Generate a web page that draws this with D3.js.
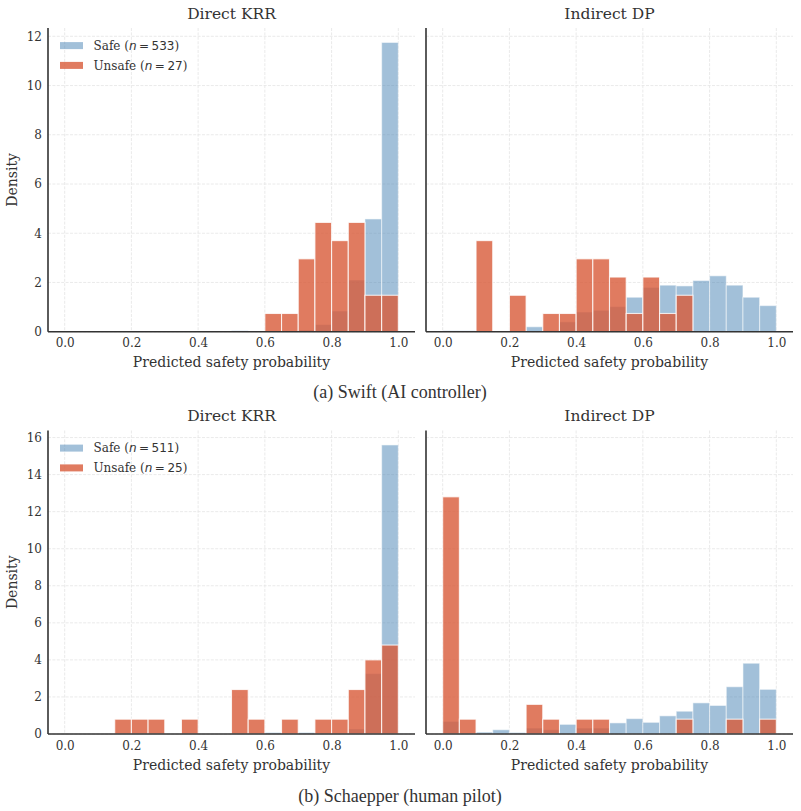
<!DOCTYPE html>
<html>
<head>
<meta charset="utf-8">
<script src="https://cdnjs.cloudflare.com/ajax/libs/d3/7.8.5/d3.min.js"></script>
<style>
    body { margin: 0; background: #fff; }
    text { font-family: "DejaVu Serif", serif; fill: #333; }
</style>
</head>
<body>
<div id="chart"></div>
<script>

// bins of width 0.05 (left edges)
const binStarts = [0.00, 0.05, 0.10, 0.15, 0.20, 0.25, 0.30, 0.35, 0.40, 0.45,
                   0.50, 0.55, 0.60, 0.65, 0.70, 0.75, 0.80, 0.85, 0.90, 0.95];
const binWidth = 0.05;
const xTicks = [0.0, 0.2, 0.4, 0.6, 0.8, 1.0];

const methods = ["Direct KRR", "Indirect DP"];
const captions = ["(a) Swift (AI controller)", "(b) Schaepper (human pilot)"];
const safeN = [533, 511];
const unsafeN = [27, 25];

// densities
const swiftKrrSafe   = [0, 0, 0, 0, 0, 0, 0, 0, 0, 0, 0.04, 0, 0, 0, 0.07, 0.29, 0.84, 2.10, 4.58, 11.75];
const swiftKrrUnsafe = [0, 0, 0, 0, 0, 0, 0, 0, 0, 0, 0, 0, 0.74, 0.74, 2.96, 4.44, 3.70, 4.44, 1.48, 1.48];
const swiftDpSafe    = [0.04, 0.04, 0, 0, 0, 0.20, 0.05, 0.40, 0.80, 0.87, 1.02, 1.40, 1.80, 1.89, 1.86, 2.08, 2.27, 1.89, 1.40, 1.06];
const swiftDpUnsafe  = [0, 0, 3.70, 0, 1.48, 0, 0.74, 0.74, 2.96, 2.96, 2.22, 0.74, 2.22, 0.74, 1.48, 0, 0, 0, 0, 0];

const schKrrSafe     = [0, 0, 0, 0, 0, 0, 0, 0, 0, 0, 0, 0, 0.08, 0, 0.08, 0, 0, 0.27, 3.26, 15.6];
const schKrrUnsafe   = [0, 0, 0, 0.8, 0.8, 0.8, 0, 0.8, 0, 0, 2.4, 0.8, 0, 0.8, 0, 0.8, 0.8, 2.4, 4.0, 4.8];
const schDpSafe      = [0.68, 0, 0.1, 0.23, 0.08, 0.32, 0.23, 0.52, 0.32, 0.32, 0.6, 0.83, 0.63, 0.98, 1.23, 1.68, 1.54, 2.55, 3.82, 2.41];
const schDpUnsafe    = [12.8, 0.8, 0, 0, 0, 1.6, 0.8, 0, 0.8, 0.8, 0, 0, 0, 0, 0.8, 0, 0, 0.8, 0, 0.8];

const safeColor = "#4682b4", safeAlpha = 0.5;
const unsafeColor = "#d85a38", unsafeAlpha = 0.8;

class HistPanel {

    constructor(svg, cfg){
        this.svg = svg
        this.cfg = cfg
        this.initVis()
    }

    initVis(){
        let vis = this
        let c = vis.cfg

        vis.width = c.width
        vis.height = c.height
        vis.g = vis.svg.append("g")
            .attr("transform", `translate(${c.left},${c.top})`)

        vis.xScale = d3.scaleLinear().domain([-0.05, 1.05]).range([0, vis.width])
        vis.yScale = d3.scaleLinear().domain([0, c.yMax]).range([vis.height, 0])

        // light dashed grid
        let grid = vis.g.append("g").attr("class", "grid")
            .attr("stroke", "#e4e4e4").attr("stroke-width", 0.8).attr("stroke-dasharray", "3,1.4")
        grid.selectAll(".gx").data(xTicks).enter().append("line")
            .attr("x1", d => vis.xScale(d)).attr("x2", d => vis.xScale(d))
            .attr("y1", 0).attr("y2", vis.height)
        grid.selectAll(".gy").data(d3.range(0, c.yMax, 2)).enter().append("line")
            .attr("x1", 0).attr("x2", vis.width)
            .attr("y1", d => vis.yScale(d)).attr("y2", d => vis.yScale(d))

        vis.barLayer = vis.g.append("g")

        vis.xAxis = d3.axisBottom(vis.xScale).tickValues(xTicks)
            .tickFormat(d3.format(".1f")).tickSize(0).tickPadding(7)
        vis.yAxis = d3.axisLeft(vis.yScale).tickValues(d3.range(0, c.yMax, 2))
            .tickSize(0).tickPadding(6)

        vis.wrangleData()
    }

    wrangleData(){
        let vis = this
        vis.bins = binStarts.map((b, i) => ({
            x0: b, x1: b + binWidth,
            safe: vis.cfg.safe[i], unsafe: vis.cfg.unsafe[i]
        }))
        vis.updateVis()
    }

    updateVis(){
        let vis = this
        let c = vis.cfg

        let drawSeries = (key, color, alpha) => {
            vis.barLayer.selectAll(".bar-" + key)
                .data(vis.bins.filter(d => d[key] > 0))
                .enter().append("rect")
                .attr("class", "bar-" + key)
                .attr("x", d => vis.xScale(d.x0))
                .attr("width", d => vis.xScale(d.x1) - vis.xScale(d.x0))
                .attr("y", d => vis.yScale(d[key]))
                .attr("height", d => vis.height - vis.yScale(d[key]))
                .attr("fill", color).attr("fill-opacity", alpha)
                .attr("stroke", "#fff").attr("stroke-opacity", alpha).attr("stroke-width", 1.1)
        }
        drawSeries("safe", safeColor, safeAlpha)
        drawSeries("unsafe", unsafeColor, unsafeAlpha)

        // axes
        let xg = vis.g.append("g").attr("class", "axis x-axis")
            .attr("transform", `translate(0,${vis.height})`)
            .call(vis.xAxis)
        xg.selectAll("text").style("font-size", "12px").style("font-family", "DejaVu Serif").attr("fill", "#333")
        xg.select(".domain").remove()

        if (c.showY) {
            let yg = vis.g.append("g").attr("class", "axis y-axis").call(vis.yAxis)
            yg.selectAll("text").style("font-size", "12px").style("font-family", "DejaVu Serif").attr("fill", "#333")
            yg.select(".domain").remove()
        }

        // spines
        vis.g.append("line").attr("x1", 0).attr("x2", 0).attr("y1", 0).attr("y2", vis.height)
            .attr("stroke", "#333").attr("stroke-width", 1.6)
        vis.g.append("line").attr("x1", 0).attr("x2", vis.width).attr("y1", vis.height).attr("y2", vis.height)
            .attr("stroke", "#333").attr("stroke-width", 1.6)

        vis.g.append("text")
            .attr("x", vis.width / 2).attr("y", -9.5)
            .attr("text-anchor", "middle").style("font-size", "15.5px")
            .text(c.title)

        vis.g.append("text")
            .attr("x", vis.width / 2).attr("y", vis.height + 35.5)
            .attr("text-anchor", "middle").style("font-size", "14px")
            .text("Predicted safety probability")

        if (c.showY) {
            vis.g.append("text")
                .attr("transform", `translate(${-31},${vis.height / 2}) rotate(-90)`)
                .attr("text-anchor", "middle").style("font-size", "14px")
                .text("Density")

            let items = [
                {label: "Safe", n: c.nSafe, color: safeColor, alpha: safeAlpha},
                {label: "Unsafe", n: c.nUnsafe, color: unsafeColor, alpha: unsafeAlpha}
            ]
            let leg = vis.g.selectAll(".legend").data(items).enter().append("g")
                .attr("class", "legend")
                .attr("transform", (d, i) => `translate(12,${17.6 + i * 19.8})`)
            leg.append("rect").attr("x", 0).attr("y", -3.5).attr("width", 23).attr("height", 7)
                .attr("fill", d => d.color).attr("fill-opacity", d => d.alpha)
            let t = leg.append("text").attr("x", 33.5).attr("dy", "0.36em").style("font-size", "12px")
            t.append("tspan").text(d => d.label + " (")
            t.append("tspan").style("font-family", "DejaVu Sans").style("font-style", "italic").text("n")
            t.append("tspan").style("font-family", "DejaVu Sans").attr("dx", 2.5).text("=")
            t.append("tspan").style("font-family", "DejaVu Sans").attr("dx", 2.5).text(d => d.n)
            t.append("tspan").text(")")
        }
    }
}

let svg = d3.select("#chart").append("svg")
    .attr("width", 801).attr("height", 811)

let rows = [
    {top: 28, height: 303.7, series: [[swiftKrrSafe, swiftKrrUnsafe], [swiftDpSafe, swiftDpUnsafe]], capY: 398},
    {top: 430.5, height: 303.5, series: [[schKrrSafe, schKrrUnsafe], [schDpSafe, schDpUnsafe]], capY: 801.5}
]
let colLefts = [48, 426]

rows.forEach((r, ri) => {
    let yMax = 1.05 * d3.max(r.series.flat(2))
    r.series.forEach((s, ci) => {
        new HistPanel(svg, {
            left: colLefts[ci], top: r.top, width: 367, height: r.height,
            yMax: yMax, safe: s[0], unsafe: s[1], title: methods[ci],
            showY: ci === 0, nSafe: safeN[ri], nUnsafe: unsafeN[ri]
        })
    })
    svg.append("text")
        .attr("x", 400).attr("y", r.capY)
        .attr("text-anchor", "middle")
        .style("font-family", "Liberation Serif").style("font-size", "18px").attr("fill", "#111")
        .text(captions[ri])
})

</script>
</body>
</html>
